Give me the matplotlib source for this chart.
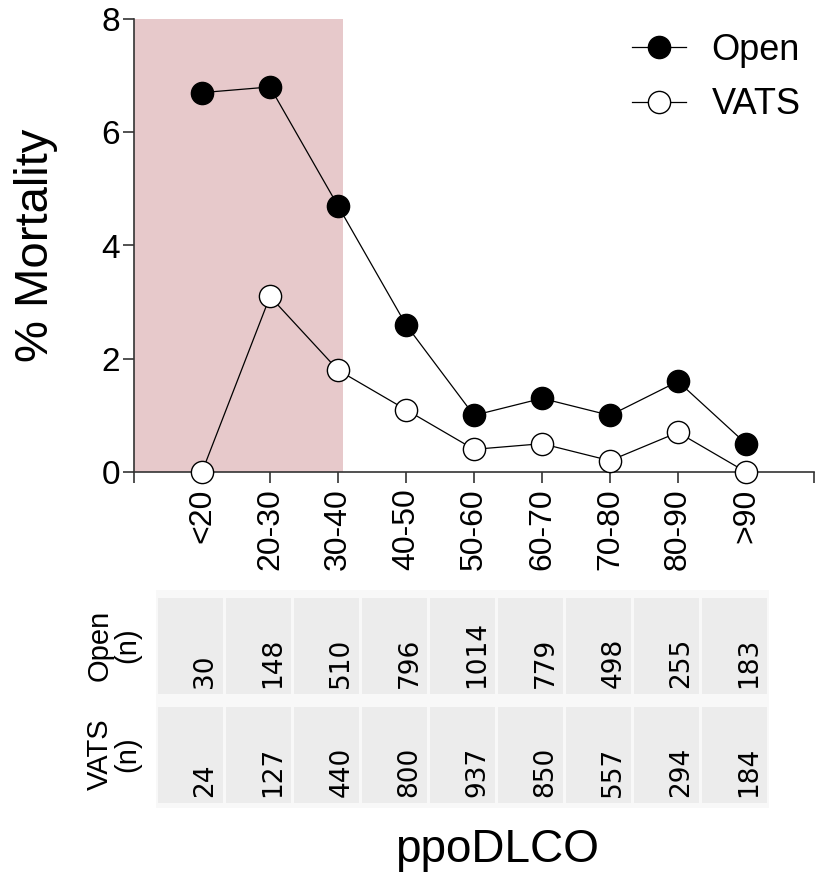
import numpy as np
import matplotlib.pyplot as plt
from matplotlib.patches import Rectangle

plt.rcParams['font.family'] = ['Liberation Sans', 'DejaVu Sans']

# data
groups = ['<20', '20-30', '30-40', '40-50', '50-60', '60-70', '70-80', '80-90', '>90']
open_mort = [6.7, 6.8, 4.7, 2.6, 1.0, 1.3, 1.0, 1.6, 0.5]
vats_mort = [0.0, 3.1, 1.8, 1.1, 0.4, 0.5, 0.2, 0.7, 0.0]
open_n = [30, 148, 510, 796, 1014, 779, 498, 255, 183]
vats_n = [24, 127, 440, 800, 937, 850, 557, 294, 184]

W, H = 817, 872
fig = plt.figure(figsize=(W / 100, H / 100), dpi=100)

x = np.arange(len(groups))
spine_col = '#333333'

# main plot
ax = fig.add_axes([134 / W, 1 - 472 / H, (814 - 134) / W, (472 - 19) / H])
ax.axvspan(-1, 2.08, color='#e7c9cb', lw=0, zorder=0)
ax.plot(x, open_mort, '-o', color='black', lw=0.9, ms=16, mfc='black', mec='black',
        mew=1, label='Open', zorder=3, clip_on=False)
ax.plot(x, vats_mort, '-o', color='black', lw=0.9, ms=16, mfc='white', mec='black',
        mew=1, label='VATS', zorder=3, clip_on=False)

ax.set_xlim(-1, 9)
ax.set_ylim(0, 8)
ax.set_yticks([0, 2, 4, 6, 8])
ax.set_xticks(np.arange(-1, 10))
ax.set_xticklabels([''] + groups + [''], rotation=90, fontsize=23)
ax.tick_params(axis='y', labelsize=24, length=8, width=1.2, color=spine_col, pad=2)
ax.tick_params(axis='x', length=8, width=1.2, color=spine_col, pad=4)
for s in ['top', 'right']:
    ax.spines[s].set_visible(False)
for s in ['left', 'bottom']:
    ax.spines[s].set_color(spine_col)
    ax.spines[s].set_linewidth(1.2)
ax.set_ylabel('% Mortality', fontsize=34, labelpad=31)

leg = ax.legend(loc='upper right', frameon=False, fontsize=26, handlelength=1.5,
                handletextpad=0.7, labelspacing=0.55, borderaxespad=0.1,
                bbox_to_anchor=(1.007, 1.01))

# counts table under the plot
tab = fig.add_axes([134 / W, 1 - 808 / H, (814 - 134) / W, (808 - 590) / H])
tab.set_xlim(-1, 9)
tab.set_ylim(0, 2)
tab.axis('off')
tab.add_patch(Rectangle((-0.68, 0.0), 9.02, 2.0, color='#f8f8f8', lw=0, zorder=0))
rows = [(1, open_n, 'Open\n(n)'), (0, vats_n, 'VATS\n(n)')]
for r, counts, lab in rows:
    for i, n in enumerate(counts):
        tab.add_patch(Rectangle((i - 0.64, r + 0.05), 0.955, 0.88,
                                color='#ececec', lw=0, zorder=1))
        tab.text(i + 0.05, r + 0.1, str(n), rotation=90, ha='center', va='bottom',
                 fontsize=19, family='DejaVu Sans', zorder=2)
    tab.text(-1.3, r + 0.49, lab, rotation=90, ha='center', va='center',
             fontsize=21, linespacing=1.0, clip_on=False)

fig.text(497 / W, 1 - 850 / H, 'ppoDLCO', ha='center', va='center', fontsize=33)

fig.savefig('out.png', dpi=100)
